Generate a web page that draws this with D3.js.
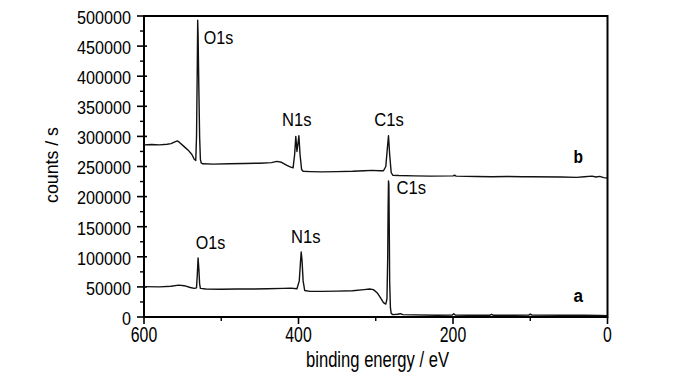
<!DOCTYPE html>
<html>
<head>
<meta charset="utf-8">
<script src="https://cdn.jsdelivr.net/npm/d3@7"></script>
<style>
  body { margin: 0; background: #fff; }
  svg { display: block; font-family: 'Liberation Sans', Arial, sans-serif; }
</style>
</head>
<body>
<div id="chart"></div>
<script>
// XPS survey spectra, [binding energy eV, counts/s]
const spectrumB = [
  [600, 286000], [590, 286500], [580, 286000], [570, 287000], [565, 288000],
  [560, 291000], [557, 292500], [554, 290000], [548, 283000], [542, 276000],
  [538, 270000], [535, 262000], [533, 260000], [532, 300000], [531, 420000],
  [530.5, 493000], [530, 470000], [529, 380000], [528, 300000], [527, 262000],
  [526, 256000], [524, 254500], [510, 254000], [490, 254500], [470, 255000],
  [450, 255500], [435, 256500], [428, 258500], [422, 257000], [415, 252000],
  [410, 249000], [407, 248000], [405, 270000], [403.5, 300000], [402, 275000],
  [401, 285000], [399.5, 301000], [398, 270000], [396, 245000], [394, 242000],
  [385, 241500], [370, 241000], [350, 241500], [330, 242000], [315, 243000],
  [305, 243500], [295, 243000], [290, 243000], [287, 250000], [285, 280000],
  [283.5, 301000], [282, 270000], [280, 240000], [278, 235500], [270, 235000],
  [250, 234500], [230, 234000], [200, 234500], [198, 235500], [196, 234000],
  [170, 233500], [150, 233000], [130, 233500], [110, 233000], [100, 233000],
  [60, 232500], [40, 232000], [30, 233000], [20, 234000], [15, 232500],
  [10, 233500], [5, 231500], [0, 231000]
]

const spectrumA = [
  [600, 50500], [580, 50000], [565, 51000], [555, 53000], [548, 52000],
  [540, 49000], [535, 47500], [532, 48500], [531, 70000], [530, 98000],
  [529, 80000], [528, 55000], [527, 47500], [520, 46500], [500, 46000],
  [480, 46500], [460, 46500], [440, 47000], [420, 47500], [410, 48000],
  [402, 47000], [399, 60000], [397.5, 90000], [396.5, 108000], [395.5, 95000],
  [394, 60000], [392, 44000], [385, 42500], [370, 42500], [350, 43000],
  [330, 43500], [315, 45500], [308, 46500], [303, 45500], [298, 40000],
  [294, 32000], [290, 24000], [287, 21500], [285.5, 30000], [284.5, 100000],
  [284, 180000], [283.5, 226000], [283, 220000], [282.5, 150000], [282, 60000],
  [281, 15000], [280, 6000], [278, 4000], [272, 4500], [268, 5500],
  [265, 4000], [250, 3500], [220, 3000], [201, 3200], [199, 5500],
  [197, 3300], [180, 3000], [152, 3000], [150, 4500], [148, 3000],
  [120, 3000], [102, 3200], [100, 5000], [98, 3200], [60, 3000],
  [30, 2800], [10, 2600], [0, 2000]
]

const xTicks = [600, 400, 200, 0]
const xMinorTicks = [500, 300, 100]
const yTicks = d3.range(0, 500001, 50000)
const yMinorTicks = d3.range(25000, 500000, 50000)

// peak labels: text, anchor [eV, counts]
const peakLabels = [
  ['O1s', 522.7, 453000], ['N1s', 421.4, 318000], ['C1s', 302, 318000],
  ['O1s', 533, 113000], ['N1s', 409.7, 123000], ['C1s', 273, 205000]
]
const curveLabels = [['b', 44, 255000], ['a', 44, 25000]]

const width = 700
const height = 373
const marginLeft = 144, plotRight = 607.5, plotTop = 16, plotBottom = 317

const svg = d3.select('#chart').append('svg')
  .attr('width', width)
  .attr('height', height)

const x = d3.scaleLinear().domain([600, 0]).range([marginLeft, plotRight])
const y = d3.scaleLinear().domain([0, 500000]).range([plotBottom, plotTop])

// frame
svg.append('rect')
  .attr('x', marginLeft).attr('y', plotTop)
  .attr('width', plotRight - marginLeft).attr('height', plotBottom - plotTop)
  .attr('fill', 'none').attr('stroke', '#000').attr('stroke-width', 2)

// y axis
const yAxis = svg.append('g').attr('class', 'y axis')
yAxis.selectAll('line.major').data(yTicks).enter().append('line')
  .attr('x1', marginLeft - 7).attr('x2', marginLeft + 3)
  .attr('y1', d => y(d)).attr('y2', d => y(d))
  .attr('stroke', '#000').attr('stroke-width', 1.6)
yAxis.selectAll('line.minor').data(yMinorTicks).enter().append('line')
  .attr('x1', marginLeft - 4).attr('x2', marginLeft)
  .attr('y1', d => y(d)).attr('y2', d => y(d))
  .attr('stroke', '#000').attr('stroke-width', 1.4)
yAxis.selectAll('text').data(yTicks).enter().append('text')
  .attr('x', 131)
  .attr('y', d => y(d) + 1)
  .attr('dy', '0.36em')
  .attr('text-anchor', 'end')
  .attr('font-size', 19)
  .attr('textLength', d => String(d).length * 9)
  .attr('lengthAdjust', 'spacingAndGlyphs')
  .text(d => d)

// x axis
const xAxis = svg.append('g').attr('class', 'x axis')
xAxis.selectAll('line.major').data(xTicks).enter().append('line')
  .attr('x1', d => x(d)).attr('x2', d => x(d))
  .attr('y1', plotBottom).attr('y2', plotBottom + 7)
  .attr('stroke', '#000').attr('stroke-width', 1.6)
xAxis.selectAll('line.minor').data(xMinorTicks).enter().append('line')
  .attr('x1', d => x(d)).attr('x2', d => x(d))
  .attr('y1', plotBottom).attr('y2', plotBottom + 4)
  .attr('stroke', '#000').attr('stroke-width', 1.4)
xAxis.selectAll('text').data(xTicks).enter().append('text')
  .attr('x', d => x(d))
  .attr('y', 342)
  .attr('text-anchor', 'middle')
  .attr('font-size', 22)
  .attr('textLength', d => String(d).length * 8.8)
  .attr('lengthAdjust', 'spacingAndGlyphs')
  .text(d => d)

// axis titles
svg.append('text')
  .attr('x', 377.5).attr('y', 367)
  .attr('text-anchor', 'middle')
  .attr('font-size', 22)
  .attr('textLength', 143)
  .attr('lengthAdjust', 'spacingAndGlyphs')
  .text('binding energy / eV')

svg.append('text')
  .attr('transform', 'translate(58,165) rotate(-90)')
  .attr('text-anchor', 'middle')
  .attr('font-size', 19)
  .attr('textLength', 76)
  .attr('lengthAdjust', 'spacingAndGlyphs')
  .text('counts / s')

// spectra
const line = d3.line()
  .x(d => x(d[0]))
  .y(d => y(d[1]))

svg.selectAll('path.spectrum')
  .data([spectrumA, spectrumB])
  .enter()
  .append('path')
  .attr('class', 'spectrum')
  .attr('d', line)
  .attr('fill', 'none')
  .attr('stroke', '#111')
  .attr('stroke-width', 1.4)
  .attr('stroke-linejoin', 'round')

// labels
svg.selectAll('text.peak')
  .data(peakLabels)
  .enter()
  .append('text')
  .attr('class', 'peak')
  .attr('x', d => x(d[1]))
  .attr('y', d => y(d[2]))
  .attr('font-size', 18)
  .attr('textLength', 29.5)
  .attr('lengthAdjust', 'spacingAndGlyphs')
  .text(d => d[0])

svg.selectAll('text.curve')
  .data(curveLabels)
  .enter()
  .append('text')
  .attr('class', 'curve')
  .attr('x', d => x(d[1]))
  .attr('y', d => y(d[2]))
  .attr('font-size', 18)
  .attr('font-weight', 'bold')
  .attr('textLength', 9.5)
  .attr('lengthAdjust', 'spacingAndGlyphs')
  .text(d => d[0])
</script>
</body>
</html>
